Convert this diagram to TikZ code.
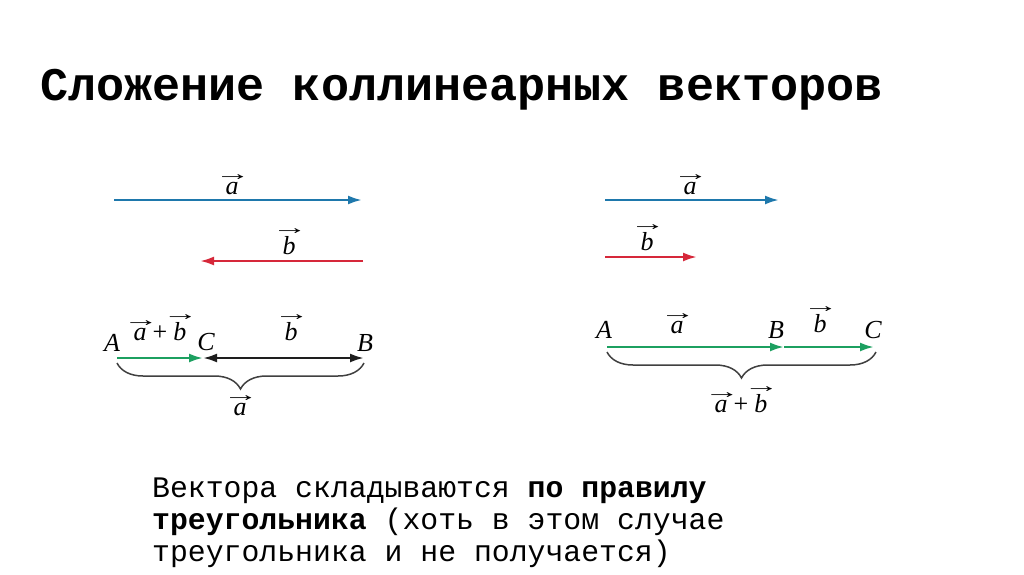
\documentclass[tikz,border=0pt]{standalone}
\usepackage{graphicx}
\usepackage{fontspec}
\setmonofont{Liberation Mono}
\newfontfamily\labf{Liberation Serif}
\usetikzlibrary{arrows.meta,decorations.pathreplacing}
\definecolor{vblue}{RGB}{30,120,172}
\definecolor{vred}{RGB}{214,40,58}
\definecolor{vgreen}{RGB}{28,160,96}
\definecolor{vblack}{RGB}{30,30,30}
\newcommand{\vv}[1]{\setbox0\hbox{#1}\hbox to \wd0{\hss\raisebox{\dimexpr\ht0+1pt\relax}[0pt][0pt]{\makebox[0pt]{\kern1.5pt\scalebox{2.1}[1.2]{\upshape\fontsize{17}{17}\selectfont→}}}\hss}\kern-\wd0\box0}
\newcommand{\plusup}{\kern6pt{\upshape +}\kern6pt}
\tikzset{
  vec/.style={line width=2.4pt,-{Latex[length=14pt,width=9pt]}},
  dvec/.style={line width=2.4pt,{Latex[length=14pt,width=9pt]}-{Latex[length=14pt,width=9pt]}},
  lab/.style={inner sep=0pt,anchor=base,font=\labf\itshape\fontsize{26}{26}\selectfont},
  brc/.style={line width=1.5pt,draw=vblack!85,decorate,decoration={brace,mirror,amplitude=26pt}},
  body/.style={anchor=base west,inner sep=0pt,font=\ttfamily\fontsize{29.8}{32}\selectfont}
}
\begin{document}
\begin{tikzpicture}[x=1pt,y=-1pt]
\useasboundingbox[fill=white] (0,0) rectangle (1024,574);
% title
\node[anchor=base west,inner sep=0pt,font=\ttfamily\bfseries\fontsize{46.8}{50}\selectfont] (title) at (40,100) {Сложение коллинеарных векторов};
% ---------- left diagram ----------
\coordinate (la0) at (114,200); \coordinate (la1) at (362,200);
\draw[vec,vblue] (la0) -- (la1);
\node[lab] (lal) at (232,194) {\vv{a}};
\coordinate (lb0) at (363,261); \coordinate (lb1) at (200,261);
\draw[vec,vred] (lb0) -- (lb1);
\node[lab] (lbl) at (289,254) {\vv{b}};
\coordinate (LA) at (117,358); \coordinate (LC) at (203,358); \coordinate (LB) at (364,358);
\draw[vec,vgreen] (LA) -- (LC);
\draw[dvec,vblack] (LC) -- (LB);
\node[lab] (tA) at (112,351) {A};
\node[lab] (tC) at (206,350) {C};
\node[lab] (tB) at (365,351) {B};
\node[lab] (tab) at (160,340) {\vv{a}\plusup\vv{b}};
\node[lab] (tb) at (291,340) {\vv{b}};
\coordinate (lbr0) at (117,363); \coordinate (lbr1) at (364,363);
\draw[brc] (lbr0) -- (lbr1);
\node[lab] (tbr) at (240,415) {\vv{a}};
% ---------- right diagram ----------
\coordinate (ra0) at (605,200); \coordinate (ra1) at (779,200);
\draw[vec,vblue] (ra0) -- (ra1);
\node[lab] (ral) at (690,194) {\vv{a}};
\coordinate (rb0) at (605,257); \coordinate (rb1) at (697,257);
\draw[vec,vred] (rb0) -- (rb1);
\node[lab] (rbl) at (647,250) {\vv{b}};
\coordinate (RA) at (607,347); \coordinate (RB) at (784,347); \coordinate (RC) at (874,347);
\draw[vec,vgreen] (RA) -- (RB);
\draw[vec,vgreen] (RB) -- (RC);
\node[lab] (sA) at (604,338) {A};
\node[lab] (sB) at (776,338) {B};
\node[lab] (sC) at (873,338) {C};
\node[lab] (sa) at (677,333) {\vv{a}};
\node[lab] (sb) at (820,332) {\vv{b}};
\coordinate (rbr0) at (607,352); \coordinate (rbr1) at (876,352);
\draw[brc] (rbr0) -- (rbr1);
\node[lab] (sbr) at (741,412) {\vv{a}\plusup\vv{b}};
% ---------- body text ----------
\node[body] (t1) at (152,497) {Вектора складываются \textbf{по правилу}};
\node[body] (t2) at (152,529) {\textbf{треугольника} (хоть в этом случае};
\node[body] (t3) at (152,561) {треугольника и не получается)};
\end{tikzpicture}
\end{document}
